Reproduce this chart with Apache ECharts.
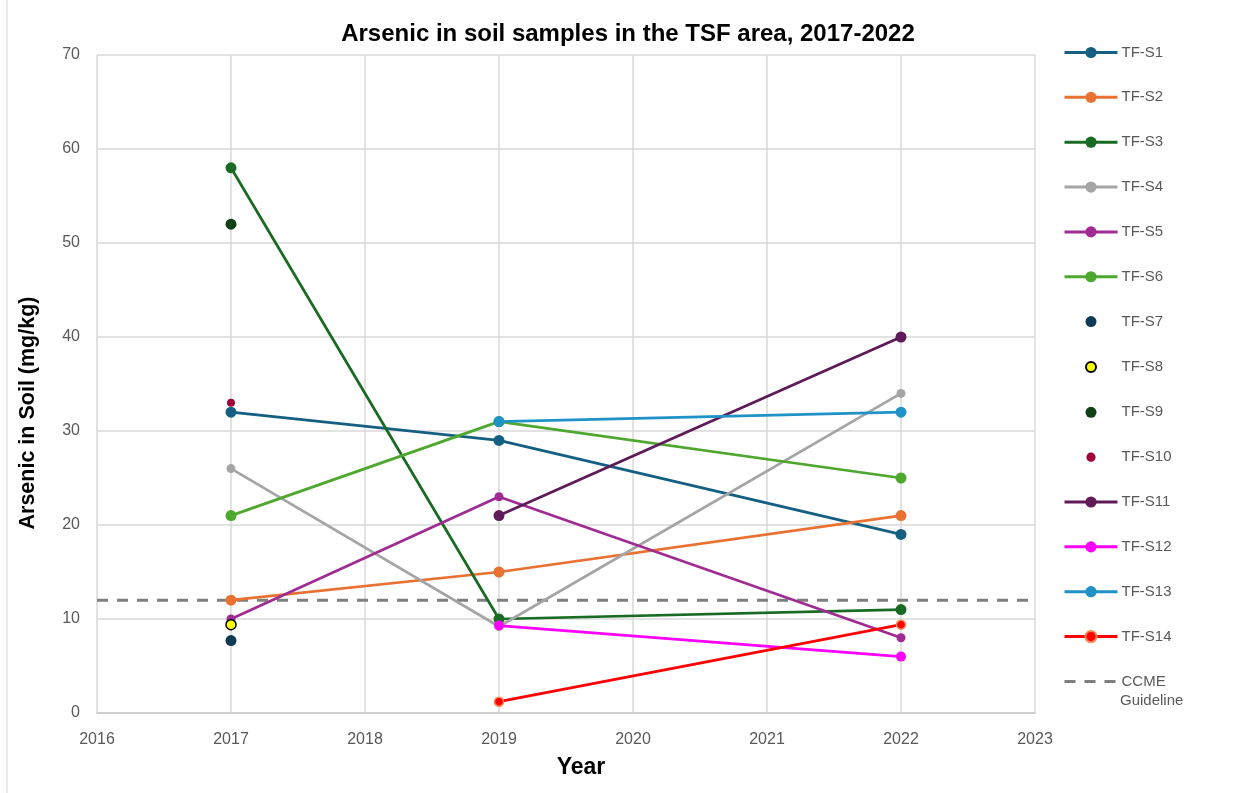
<!DOCTYPE html>
<html>
<head>
<meta charset="utf-8">
<script src="https://cdn.jsdelivr.net/npm/echarts@6/dist/echarts.min.js"></script>
<style>html,body{margin:0;padding:0;background:#fff}#c{width:1249px;height:793px}</style>
</head>
<body>
<div id="c"></div>
<script>
var years = [2017, 2019, 2022];
var seriesNames = ['TF-S1','TF-S2','TF-S3','TF-S4','TF-S5','TF-S6','TF-S7','TF-S8','TF-S9','TF-S10','TF-S11','TF-S12','TF-S13','TF-S14'];
var s1  = [32, 29, 19];
var s2  = [12, 15, 21];
var s3  = [58, 10, 11];
var s4  = [26, 9.2, 34];
var s5  = [10, 23, 8];
var s6  = [21, 31, 25];
var s7  = [7.7, null, null];
var s8  = [9.4, null, null];
var s9  = [52, null, null];
var s10 = [33, null, null];
var s11 = [null, 21, 40];
var s12 = [null, 9.3, 6];
var s13 = [null, 31, 32];
var s14 = [null, 1.2, 9.4];
var guidelineName = 'CCME Guideline';
var guidelineValue = 12;
var xTicks = [2016, 2017, 2018, 2019, 2020, 2021, 2022, 2023];
var yTicks = [0, 10, 20, 30, 40, 50, 60, 70];

var values = [s1,s2,s3,s4,s5,s6,s7,s8,s9,s10,s11,s12,s13,s14];
var styles = [
  {c:'#156082', line:true, size:11},
  {c:'#E97132', line:true, size:11},
  {c:'#196B24', line:true, size:11},
  {c:'#A5A5A5', line:true, size:9},
  {c:'#A02B93', line:true, size:9},
  {c:'#4EA72E', line:true, size:11},
  {c:'#0E3A53', line:false, size:11, r:5.5},
  {c:'#FFFF00', line:false, size:10, border:'#000000', bw:1.5, r:5},
  {c:'#0F4016', line:false, size:11, r:5.5},
  {c:'#A0003A', line:false, size:8, r:4.6},
  {c:'#5F1B57', line:true, size:11},
  {c:'#FF00FF', line:true, size:10},
  {c:'#1F93C8', line:true, size:11},
  {c:'#FF0000', line:true, size:9, border:'#F5894F', bw:1.5}
];

function pairs(arr){
  var out = [];
  for (var i = 0; i < years.length; i++) if (arr[i] !== null) out.push([years[i], arr[i]]);
  return out;
}
function dotIcon(r){
  var t = 7 - r, b = 7 + r;
  return 'path://M0,0L0,0M14,14L14,14M7,' + t + 'A' + r + ',' + r + ',0,1,1,7,' + b + 'A' + r + ',' + r + ',0,1,1,7,' + t + 'Z';
}

var series = seriesNames.map(function(n, i){
  var st = styles[i];
  return {
    name: n,
    type: st.line ? 'line' : 'scatter',
    data: pairs(values[i]),
    symbol: 'circle',
    symbolSize: st.size,
    showSymbol: true,
    z: 3,
    lineStyle: {color: st.c, width: 2.75},
    itemStyle: {color: st.c, borderColor: st.border || st.c, borderWidth: st.bw || 0, opacity: 1},
    emphasis: {disabled: true},
    animation: false
  };
});
series.push({
  name: guidelineName,
  type: 'line',
  data: [[xTicks[0], guidelineValue], [xTicks[xTicks.length-1], guidelineValue]],
  symbol: 'none',
  z: 2,
  lineStyle: {color: '#7F7F7F', width: 3, type: [11, 9]},
  itemStyle: {color: 'rgba(0,0,0,0)'},
  emphasis: {disabled: true},
  animation: false
});

var legendData = seriesNames.map(function(n, i){
  var st = styles[i];
  if (st.line) return {name: n};
  return {name: n, icon: dotIcon(st.r)};
});
legendData.push({name: guidelineName, itemStyle: {opacity: 0, color: 'rgba(0,0,0,0)'}});

var chart = echarts.init(document.getElementById('c'), null, {renderer: 'canvas'});
chart.setOption({
  animation: false,
  backgroundColor: '#ffffff',
  title: {
    text: 'Arsenic in soil samples in the TSF area, 2017-2022',
    left: 623, top: 17, textAlign: 'center',
    textStyle: {fontFamily: 'Liberation Sans, Arial, sans-serif', fontSize: 24, fontWeight: 'bold', color: '#000'}
  },
  grid: {left: 97, right: 214, top: 55, bottom: 80, containLabel: false},
  xAxis: {
    type: 'value', min: xTicks[0], max: xTicks[xTicks.length-1], interval: 1,
    axisLine: {show: true, lineStyle: {color: '#C8C8C8', width: 1.5}},
    axisTick: {show: false},
    splitLine: {show: true, lineStyle: {color: '#D9D9D9', width: 1.5}},
    axisLabel: {margin: 19, color: '#595959', fontSize: 16, fontFamily: 'Liberation Sans, Arial, sans-serif', formatter: function(v){return String(v);}}
  },
  yAxis: {
    type: 'value', min: yTicks[0], max: yTicks[yTicks.length-1], interval: 10,
    axisLine: {show: false},
    axisTick: {show: false},
    splitLine: {show: true, lineStyle: {color: '#D9D9D9', width: 1.5}},
    axisLabel: {margin: 17, color: '#595959', fontSize: 16, fontFamily: 'Liberation Sans, Arial, sans-serif'}
  },
  legend: {
    orient: 'vertical', left: 1063, top: 45, padding: 0,
    itemWidth: 53, itemHeight: 14, itemGap: 29.85,
    data: legendData,
    lineStyle: {width: 3},
    formatter: function(n){ return n === guidelineName ? 'CCME' : n; },
    textStyle: {color: '#595959', fontSize: 15, fontFamily: 'Liberation Sans, Arial, sans-serif', padding: [0,0,0,-1]},
    selectedMode: false
  },
  graphic: [
    {type: 'text', left: 1120, top: 693, style: {text: 'Guideline', fill: '#595959', font: '15px "Liberation Sans", Arial, sans-serif'}},
    {type: 'text', x: 28, y: 413, rotation: Math.PI/2, style: {text: 'Arsenic in Soil (mg/kg)', fill: '#000', font: 'bold 21.5px "Liberation Sans", Arial, sans-serif', align: 'center', verticalAlign: 'middle'}},
    {type: 'text', x: 581, y: 768, style: {text: 'Year', fill: '#000', font: 'bold 23px "Liberation Sans", Arial, sans-serif', align: 'center', verticalAlign: 'middle'}},
    {type: 'line', shape: {x1: 7, y1: 0, x2: 7, y2: 793}, style: {stroke: '#D9D9D9', lineWidth: 1}}
  ],
  series: series
});
</script>
</body>
</html>
